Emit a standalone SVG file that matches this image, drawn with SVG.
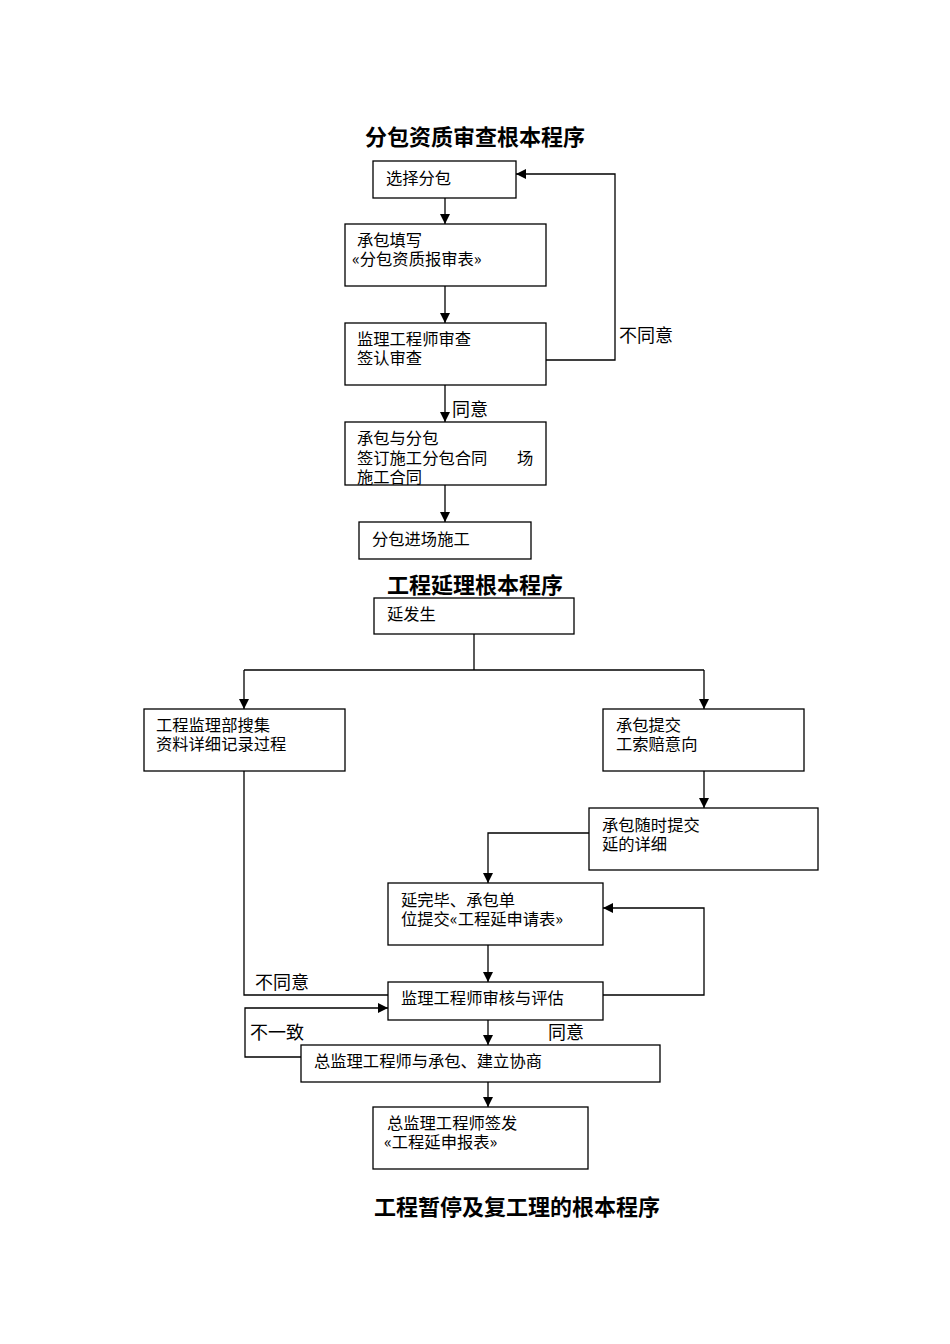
<svg xmlns="http://www.w3.org/2000/svg" width="950" height="1344" viewBox="0 0 950 1344">
<style>
.box{fill:#fff;stroke:#000;stroke-width:1.3}
.t{font-family:"Noto Sans CJK SC","Liberation Sans",sans-serif;font-size:16.3px;fill:#000}
.lbl{font-family:"Noto Sans CJK SC","Liberation Sans",sans-serif;font-size:18px;fill:#000}
.title{font-family:"Noto Sans CJK SC","Liberation Sans",sans-serif;font-size:22px;font-weight:bold;fill:#000}
.c{fill:none;stroke:#000;stroke-width:1.3}
</style>
<defs>
<marker id="ah" viewBox="0 0 10 10" refX="10" refY="5" markerWidth="10" markerHeight="10" markerUnits="userSpaceOnUse" orient="auto">
<path d="M0,0 L10,5 L0,10 z" fill="#000"/>
</marker>
</defs>
<rect width="950" height="1344" fill="#fff"/>
<text class="title" x="365" y="145">分包资质审查根本程序</text>
<text class="title" x="387" y="593">工程延理根本程序</text>
<text class="title" x="374" y="1215">工程暂停及复工理的根本程序</text>

<g id="connectors">
<path class="c" d="M445,198 L445,224" marker-end="url(#ah)"/>
<path class="c" d="M445,286 L445,323" marker-end="url(#ah)"/>
<path class="c" d="M543,360 L615,360 L615,174 L516,174" marker-end="url(#ah)"/>
<path class="c" d="M445,385 L445,422" marker-end="url(#ah)"/>
<path class="c" d="M445,485 L445,522" marker-end="url(#ah)"/>
<path class="c" d="M474,634 L474,670"/>
<path class="c" d="M244,670 L704,670"/>
<path class="c" d="M244,670 L244,709" marker-end="url(#ah)"/>
<path class="c" d="M704,670 L704,709" marker-end="url(#ah)"/>
<path class="c" d="M704,771 L704,808" marker-end="url(#ah)"/>
<path class="c" d="M589,833 L488,833 L488,883" marker-end="url(#ah)"/>
<path class="c" d="M488,945 L488,982" marker-end="url(#ah)"/>
<path class="c" d="M244,771 L244,995 L388,995"/>
<path class="c" d="M603,995 L704,995 L704,908 L603,908" marker-end="url(#ah)"/>
<path class="c" d="M488,1020 L488,1045" marker-end="url(#ah)"/>
<path class="c" d="M301,1057 L245,1057 L245,1008 L388,1008" marker-end="url(#ah)"/>
<path class="c" d="M488,1082 L488,1107" marker-end="url(#ah)"/>
<text class="lbl" x="619" y="342">不同意</text>
<text class="lbl" x="452" y="416">同意</text>
<text class="lbl" x="255" y="989">不同意</text>
<text class="lbl" x="548" y="1039">同意</text>
<text class="lbl" x="250" y="1039">不一致</text>
</g>

<g id="n1"><rect class="box" x="373" y="161" width="143" height="37"/><text class="t" x="386" y="184">选择分包</text></g>
<g id="n2"><rect class="box" x="345" y="224" width="201" height="62"/><text class="t"><tspan x="357" y="246">承包填写</tspan><tspan x="352" y="265">«分包资质报审表»</tspan></text></g>
<g id="n3"><rect class="box" x="345" y="323" width="201" height="62"/><text class="t"><tspan x="357" y="345">监理工程师审查</tspan><tspan x="357" y="364">签认审查</tspan></text></g>
<g id="n4"><rect class="box" x="345" y="422" width="201" height="63"/><text class="t"><tspan x="357" y="444">承包与分包</tspan><tspan x="357" y="464">签订施工分包合同</tspan><tspan x="517" y="464">场</tspan><tspan x="357" y="483">施工合同</tspan></text></g>
<g id="n5"><rect class="box" x="359" y="522" width="172" height="37"/><text class="t" x="372" y="545">分包进场施工</text></g>

<g id="n6"><rect class="box" x="374" y="598" width="200" height="36"/><text class="t" x="387" y="620">延发生</text></g>
<g id="n7"><rect class="box" x="144" y="709" width="201" height="62"/><text class="t"><tspan x="156" y="731">工程监理部搜集</tspan><tspan x="156" y="750">资料详细记录过程</tspan></text></g>
<g id="n8"><rect class="box" x="603" y="709" width="201" height="62"/><text class="t"><tspan x="616" y="731">承包提交</tspan><tspan x="616" y="750">工索赔意向</tspan></text></g>
<g id="n9"><rect class="box" x="589" y="808" width="229" height="62"/><text class="t"><tspan x="602" y="831">承包随时提交</tspan><tspan x="602" y="850">延的详细</tspan></text></g>
<g id="n10"><rect class="box" x="388" y="883" width="215" height="62"/><text class="t"><tspan x="401" y="906">延完毕、承包单</tspan><tspan x="401" y="925">位提交«工程延申请表»</tspan></text></g>
<g id="n11"><rect class="box" x="388" y="982" width="215" height="38"/><text class="t" x="401" y="1004">监理工程师审核与评估</text></g>
<g id="n12"><rect class="box" x="301" y="1045" width="359" height="37"/><text class="t" x="314" y="1067">总监理工程师与承包、建立协商</text></g>
<g id="n13"><rect class="box" x="373" y="1107" width="215" height="62"/><text class="t"><tspan x="387" y="1129">总监理工程师签发</tspan><tspan x="384" y="1148">«工程延申报表»</tspan></text></g>
</svg>
